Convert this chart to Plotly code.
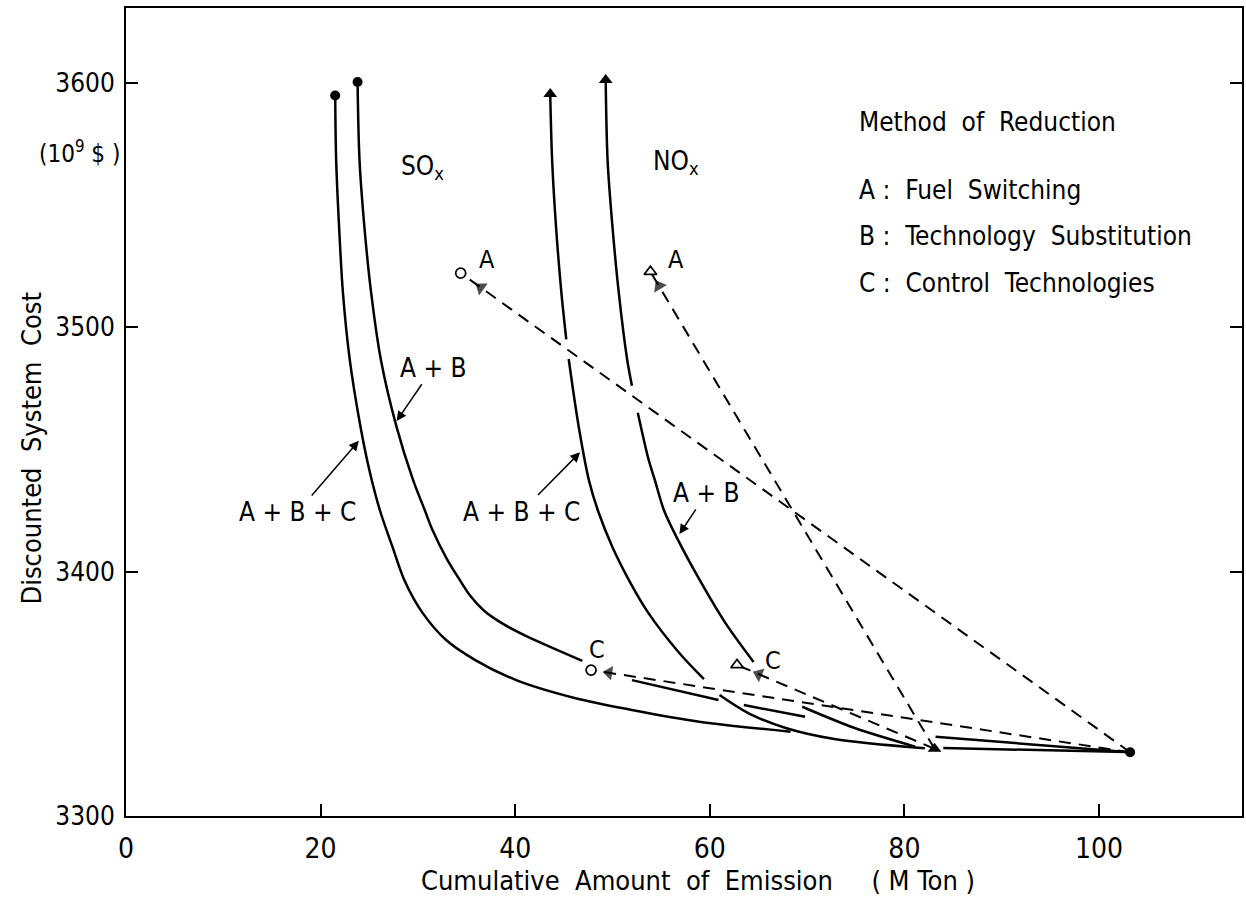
import plotly.graph_objects as go

# ---- Cost / emission trade-off curves (x: M Ton, y: 10^9 $) ----
# None marks a break where the drafted line is interrupted at a crossing.
sox_abc_x = [21.5, 21.6, 21.9, 22.3, 23.0, 24.1, 25.1, 26.1, 27.4, 28.6, 30.5, 32.9,
             35.9, 40.1, 46.2, 52.0, 58.9, 68.3, None, 84.0, 102.8]
sox_abc_y = [3594.8, 3568.4, 3541.1, 3513.9, 3486.6, 3459.3, 3440.0, 3425.0, 3410.0,
             3396.6, 3383.0, 3372.0, 3363.8, 3355.6, 3348.2, 3343.4, 3338.6, 3334.5,
             None, 3327.8, 3326.2]

sox_ab_x = [23.8, 24.0, 24.5, 25.2, 26.2, 27.8, 29.5, 30.7, 31.5, 33.0, 34.3, 35.4,
            36.8, 38.8, 41.2, 44.0, 46.9, None, 52.0, 60.9, None, 63.5, 69.8, None,
            83.2, 102.6]
sox_ab_y = [3600.3, 3568.4, 3541.1, 3513.9, 3486.6, 3459.3, 3437.5, 3425.2, 3417.0,
            3405.0, 3396.6, 3390.0, 3384.0, 3378.5, 3373.5, 3368.5, 3363.5, None,
            3355.6, 3347.5, None, 3345.4, 3340.6, None, 3332.4, 3326.3]

nox_abc_x = [43.6, 43.8, 44.2, 44.75, 45.25, None, 45.5, 46.5, 47.6, 48.5, 50.0, 51.9,
             53.7, 56.8, 59.4, None, 61.0, 64.0, 67.8, 72.8, 82.1]
nox_abc_y = [3595.4, 3568.0, 3541.0, 3514.0, 3495.0, None, 3487.0, 3460.0, 3437.0,
             3425.0, 3410.0, 3395.0, 3383.0, 3367.0, 3356.0, None, 3349.5, 3342.0,
             3336.0, 3331.5, 3327.7]

nox_ab_x = [49.3, 49.5, 50.0, 50.65, 51.5, 52.0, None, 52.6, 53.7, 54.35, 55.3, 56.6,
            58.9, 61.6, 64.5, None, 69.5, 74.9, 81.1]
nox_ab_y = [3601.1, 3568.0, 3541.0, 3514.0, 3487.0, 3476.0, None, 3465.0, 3446.0,
            3437.5, 3425.0, 3414.0, 3397.0, 3379.0, 3363.0, None, 3344.7, 3336.0,
            3328.4]

# Base case (no reduction) and single-method results
sox_base = (103.2, 3326.1)
nox_base = (83.1, 3327.5)
sox_fuel = (34.4, 3522.1)      # A only, SOx
sox_control = (47.8, 3359.7)   # C only, SOx
nox_fuel = (53.9, 3522.7)      # A only, NOx
nox_control = (62.8, 3361.8)   # C only, NOx

x_ticks = [0, 20, 40, 60, 80, 100]
y_ticks = [3300, 3400, 3500, 3600]

legend_title = "Method of Reduction"
legend_lines = ["A\u00a0:\u00a0 Fuel\u00a0 Switching",
                "B\u00a0:\u00a0 Technology\u00a0 Substitution",
                "C\u00a0:\u00a0 Control\u00a0 Technologies"]

FONT = "Liberation Sans Narrow, DejaVu Sans Condensed, Arial Narrow, sans-serif"
INK = "black"

fig = go.Figure()

# solid reduction curves
for xs, ys in [(sox_abc_x, sox_abc_y), (sox_ab_x, sox_ab_y),
               (nox_abc_x, nox_abc_y), (nox_ab_x, nox_ab_y)]:
    fig.add_trace(go.Scatter(x=xs, y=ys, mode="lines", connectgaps=False,
                             line=dict(color=INK, width=2.5, shape="spline", smoothing=0.9),
                             hoverinfo="skip", showlegend=False))

# dashed moves from the base case to each single method, with arrowheads near the end
moves = [(sox_base, sox_fuel, 0.97), (sox_base, sox_control, 0.967),
         (nox_base, nox_fuel, 0.97), (nox_base, nox_control, 0.89)]
for start, end, frac in moves:
    fig.add_trace(go.Scatter(x=[start[0], end[0]], y=[start[1], end[1]], mode="lines",
                             line=dict(color=INK, width=2, dash="12px,8px"),
                             hoverinfo="skip", showlegend=False))
    ax = start[0] + frac * (end[0] - start[0])
    ay = start[1] + frac * (end[1] - start[1])
    fig.add_trace(go.Scatter(x=[start[0], ax], y=[start[1], ay], mode="markers",
                             marker=dict(symbol="triangle-up", size=[0, 12], color=INK,
                                         angleref="previous",
                                         line=dict(width=0.5, color=INK)),
                             hoverinfo="skip", showlegend=False))

# end markers of the curves
fig.add_trace(go.Scatter(x=[sox_abc_x[0], sox_ab_x[0], sox_base[0]],
                         y=[sox_abc_y[0], sox_ab_y[0], sox_base[1]], mode="markers",
                         marker=dict(symbol="circle", size=10, color=INK),
                         hoverinfo="skip", showlegend=False))
fig.add_trace(go.Scatter(x=[nox_abc_x[0], nox_ab_x[0], nox_base[0]],
                         y=[nox_abc_y[0], nox_ab_y[0], nox_base[1]], mode="markers",
                         marker=dict(symbol="triangle-up", size=12, color=INK),
                         hoverinfo="skip", showlegend=False))
# single-method points (hollow, drawn over the dashed lines)
fig.add_trace(go.Scatter(x=[sox_fuel[0], sox_control[0]], y=[sox_fuel[1], sox_control[1]],
                         mode="markers",
                         marker=dict(symbol="circle", size=10, color="white",
                                     line=dict(width=1.7, color=INK)),
                         hoverinfo="skip", showlegend=False))
fig.add_trace(go.Scatter(x=[nox_fuel[0], nox_control[0]], y=[nox_fuel[1], nox_control[1]],
                         mode="markers",
                         marker=dict(symbol="triangle-up", size=11, color="white",
                                     line=dict(width=1.7, color=INK)),
                         hoverinfo="skip", showlegend=False))

annotations = []


def label(text, x, y, size=26, anchor="center"):
    annotations.append(dict(text=text, x=x, y=y, xref="x", yref="y", showarrow=False,
                            xanchor=anchor, yanchor="middle",
                            font=dict(family=FONT, size=size, color=INK)))


def pointer(text, x, y, ax, ay):
    # text placed at a pixel offset (ax, ay) from the curve point it points at
    annotations.append(dict(text=text, x=x, y=y, xref="x", yref="y", ax=ax, ay=ay,
                            showarrow=True, arrowhead=2, arrowsize=1.3, arrowwidth=1.5,
                            arrowcolor=INK, standoff=1,
                            font=dict(family=FONT, size=26, color=INK)))


label("SO<sub>x</sub>", 28.1, 3565.5, anchor="left")
label("NO<sub>x</sub>", 53.95, 3567.2, anchor="left")
label("A", 37.1, 3527.9, size=25)
label("A", 56.5, 3527.5, size=25)
label("C", 48.4, 3368.3, size=25)
label("C", 66.5, 3363.8, size=25)
pointer("A\u00a0+\u00a0B\u00a0+\u00a0C", 24.0, 3453.8, -62, 72)
pointer("A\u00a0+\u00a0B", 27.76, 3461.3, 37, -54)
pointer("A\u00a0+\u00a0B\u00a0+\u00a0C", 46.74, 3449.1, -59, 60)
pointer("A\u00a0+\u00a0B", 56.82, 3415.0, 28, -42)

# method legend
label(legend_title.replace(" ", "\u00a0 "), 75.1, 3584.0, size=26, anchor="left")
for text, yy in zip(legend_lines, [3556.1, 3537.3, 3518.1]):
    label(text, 75.1, yy, size=26, anchor="left")

# axis titles and unit
annotations.append(dict(text="Discounted\u00a0 System\u00a0 Cost", textangle=-90,
                        x=-0.085, y=0.455, xref="paper", yref="paper", showarrow=False,
                        xanchor="center", yanchor="middle",
                        font=dict(family=FONT, size=27, color=INK)))
annotations.append(dict(text="Cumulative\u00a0 Amount\u00a0 of\u00a0 Emission\u00a0\u00a0\u00a0\u00a0 (\u00a0M\u00a0Ton\u00a0)",
                        x=0.5125, y=-0.0804, xref="paper", yref="paper", showarrow=False,
                        xanchor="center", yanchor="middle",
                        font=dict(family=FONT, size=27, color=INK)))
annotations.append(dict(text="(10<sup>9</sup>\u00a0$\u00a0)", x=-0.042, y=0.8218,
                        xref="paper", yref="paper", showarrow=False,
                        xanchor="center", yanchor="middle",
                        font=dict(family=FONT, size=24, color=INK)))

fig.update_layout(
    width=1246, height=902,
    margin=dict(l=126, r=2, t=8, b=86),
    paper_bgcolor="white", plot_bgcolor="white",
    showlegend=False,
    annotations=annotations,
    xaxis=dict(range=[0, 114.7], tickvals=x_ticks, ticks="inside", ticklen=12,
               tickwidth=1.5, tickcolor=INK, showline=True, linewidth=2, linecolor=INK,
               mirror=True, showgrid=False, zeroline=False, ticklabelstandoff=6,
               tickfont=dict(family=FONT, size=28, color=INK)),
    yaxis=dict(range=[3300, 3630.6], tickvals=y_ticks, ticks="inside", ticklen=12,
               tickwidth=1.5, tickcolor=INK, showline=True, linewidth=2, linecolor=INK,
               mirror="allticks", showgrid=False, zeroline=False, ticklabelstandoff=4,
               tickfont=dict(family=FONT, size=26, color=INK)),
)

fig.write_html("out.html")
